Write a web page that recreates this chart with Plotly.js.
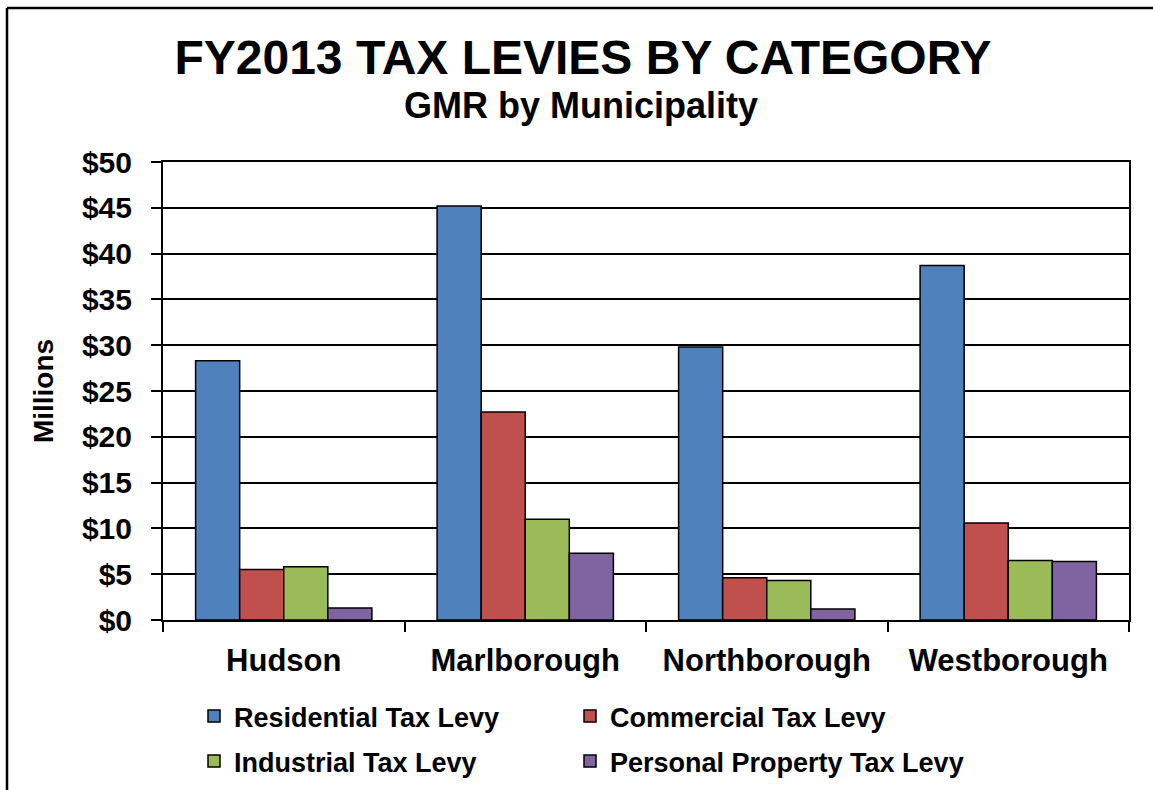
<!DOCTYPE html>
<html>
<head>
<meta charset="utf-8">
<script src="https://cdn.plot.ly/plotly-3.0.1.min.js"></script>
<style>
  html, body { margin: 0; padding: 0; background: #fff; overflow: hidden; }
  #chart { width: 1153px; height: 790px; }
</style>
</head>
<body>
<div id="chart"></div>
<script>
// Municipalities on the category axis
const municipalities = ["Hudson", "Marlborough", "Northborough", "Westborough"];

// FY2013 tax levies, millions of dollars
const residentialLevy = [28.3, 45.2, 29.8, 38.7];
const commercialLevy  = [5.5, 22.7, 4.6, 10.6];
const industrialLevy  = [5.8, 11.0, 4.3, 6.5];
const personalLevy    = [1.3, 7.3, 1.2, 6.4];

const seriesNames = [
  "Residential Tax Levy",
  "Commercial Tax Levy",
  "Industrial Tax Levy",
  "Personal Property Tax Levy"
];

// Dollar ticks every $5M
const yTickValues = [0, 5, 10, 15, 20, 25, 30, 35, 40, 45, 50];
const yTickLabels = ["$0", "$5", "$10", "$15", "$20", "$25", "$30", "$35", "$40", "$45", "$50"];

const FONT = "Liberation Sans, Arial, Helvetica, sans-serif";
const colors = ["#4F81BD", "#C0504D", "#9BBB59", "#8064A2"];
const seriesValues = [residentialLevy, commercialLevy, industrialLevy, personalLevy];

const W = 1153, H = 790;
const margin = { l: 163, r: 24, t: 162, b: 170, pad: 0, autoexpand: false };
const plotW = W - margin.l - margin.r;
const plotH = H - margin.t - margin.b;

// pixel -> paper coordinate helpers
const px2x = p => (p - margin.l) / plotW;
const px2y = p => (H - margin.b - p) / plotH;

// one legend box per series, laid out as a 2 x 2 grid below the axis
const legendIds = ["legend", "legend2", "legend3", "legend4"];
const legendCol = [194, 570];
const legendRowTop = [692, 737];

const traces = seriesValues.map((vals, i) => ({
  type: "bar",
  name: seriesNames[i],
  legend: legendIds[i],
  x: municipalities,
  y: vals,
  marker: { color: colors[i], line: { color: "#000", width: 1.5 } },
  hoverinfo: "skip"
}));

function legendAt(leftPx, topPx) {
  return {
    orientation: "h",
    x: px2x(leftPx), xanchor: "left",
    y: px2y(topPx), yanchor: "top",
    font: { family: FONT, size: 27, color: "#000", weight: "bold" },
    bgcolor: "rgba(0,0,0,0)"
  };
}

const layout = {
  width: W,
  height: H,
  margin: margin,
  paper_bgcolor: "#fff",
  plot_bgcolor: "#fff",
  font: { family: FONT, color: "#000", weight: "bold" },
  title: {
    text: "FY2013 TAX LEVIES BY CATEGORY",
    font: { family: FONT, size: 48, color: "#000", weight: "bold" },
    x: 583 / W, xanchor: "center",
    xref: "container", yref: "container",
    y: 1 - 57 / H, yanchor: "middle"
  },
  annotations: [{
    text: "GMR by Municipality",
    font: { family: FONT, size: 36, color: "#000", weight: "bold" },
    xref: "paper", yref: "paper",
    x: px2x(581), y: px2y(106),
    xanchor: "center", yanchor: "middle",
    showarrow: false
  }],
  barmode: "group",
  bargap: 0.27,
  bargroupgap: 0,
  showlegend: true,
  xaxis: {
    type: "category",
    showgrid: false,
    showline: true, linecolor: "#000", linewidth: 2,
    mirror: true,
    ticks: "outside", tickson: "boundaries",
    ticklen: 10, tickwidth: 2, tickcolor: "#000",
    tickfont: { family: FONT, size: 31, color: "#000", weight: "bold" },
    ticklabelstandoff: 12,
    fixedrange: true
  },
  yaxis: {
    range: [0, 50],
    tickvals: yTickValues,
    ticktext: yTickLabels,
    showgrid: true, gridcolor: "#000", gridwidth: 2,
    zeroline: false,
    showline: true, linecolor: "#000", linewidth: 2,
    mirror: true,
    ticks: "outside", ticklen: 10, tickwidth: 2, tickcolor: "#000",
    tickfont: { family: FONT, size: 30, color: "#000", weight: "bold" },
    ticklabelstandoff: 13,
    title: {
      text: "Millions",
      font: { family: FONT, size: 28, color: "#000", weight: "bold" },
      standoff: 20
    },
    fixedrange: true
  },
  shapes: [
    // outer chart frame (left and top edges)
    { type: "line", xref: "paper", yref: "paper",
      x0: px2x(7), x1: px2x(7), y0: px2y(8), y1: px2y(H + 20),
      line: { color: "#000", width: 2.5 } },
    { type: "line", xref: "paper", yref: "paper",
      x0: px2x(7), x1: px2x(W + 20), y0: px2y(8), y1: px2y(8),
      line: { color: "#000", width: 2.5 } }
  ]
};

legendIds.forEach((id, i) => {
  layout[id] = legendAt(legendCol[i % 2], legendRowTop[Math.floor(i / 2)]);
});

Plotly.newPlot("chart", traces, layout, { displayModeBar: false, staticPlot: true });
</script>
</body>
</html>
